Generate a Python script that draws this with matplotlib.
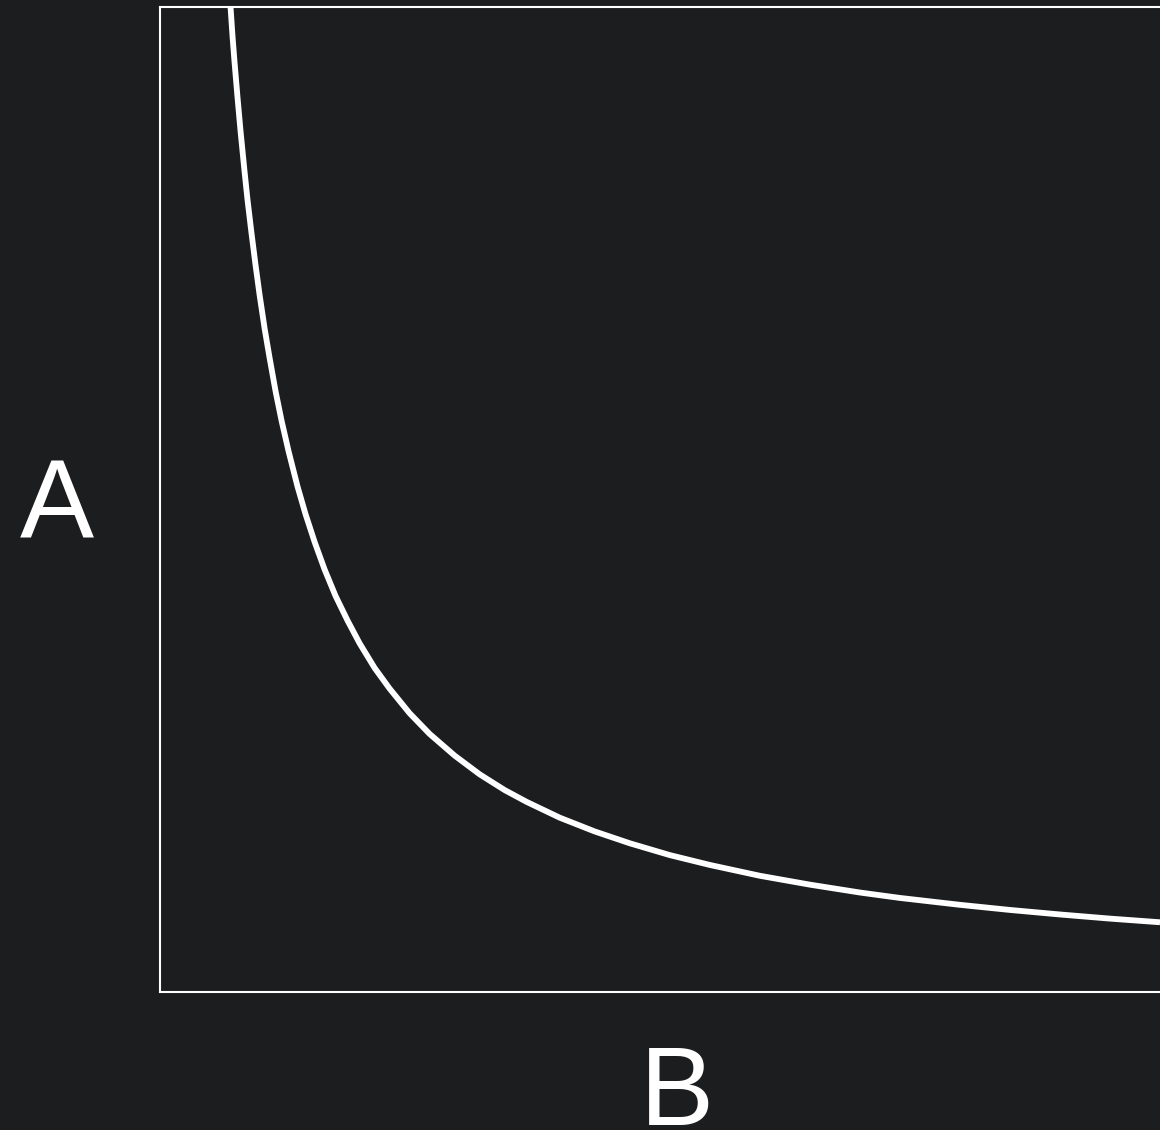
import matplotlib
matplotlib.use("Agg")
import matplotlib.pyplot as plt

# Curve samples (x, y) in data units
x_vals = [0.71, 0.73, 0.75, 0.78, 0.81, 0.85, 0.88, 0.92, 0.96, 1.00,
          1.05, 1.10, 1.16, 1.22, 1.29, 1.38, 1.46, 1.55, 1.65, 1.76,
          1.88, 2.00, 2.15, 2.30, 2.50, 2.70, 2.95, 3.20, 3.45, 3.67,
          4.00, 4.35, 4.70, 5.10, 5.50, 6.00, 6.50, 7.00, 7.40, 8.00,
          8.50, 9.00, 9.50, 10.00]
y_vals = [10.00, 9.70, 9.44, 9.08, 8.74, 8.33, 8.04, 7.70, 7.38, 7.08,
          6.74, 6.44, 6.10, 5.80, 5.49, 5.13, 4.85, 4.57, 4.29, 4.02,
          3.77, 3.54, 3.29, 3.08, 2.83, 2.62, 2.40, 2.21, 2.05, 1.93,
          1.77, 1.63, 1.51, 1.39, 1.29, 1.18, 1.09, 1.01, 0.955, 0.885,
          0.833, 0.787, 0.745, 0.708]

x_label = "B"
y_label = "A"

bg = "#1c1d1f"
fg = "#ffffff"

W, H = 1160, 1130
fig = plt.figure(figsize=(W / 100, H / 100), dpi=100, facecolor=bg)
left_px, top_px, bottom_px = 159.5, 7, 992
ax = fig.add_axes([left_px / W, 1 - bottom_px / H,
                   (W - left_px) / W, (bottom_px - top_px) / H])
ax.set_facecolor(bg)
ax.plot(x_vals, y_vals, color=fg, lw=4.2, solid_joinstyle="round",
        solid_capstyle="butt")
ax.set_xlim(0, 10)
ax.set_ylim(0, 10)
ax.set_xticks([])
ax.set_yticks([])
for side in ("left", "top", "bottom"):
    ax.spines[side].set_color(fg)
    ax.spines[side].set_linewidth(1.5)
ax.spines["right"].set_visible(False)

font = dict(family=["Liberation Sans", "DejaVu Sans"], color=fg, fontsize=80)
fig.text(57 / W, 1 - 538 / H, y_label, ha="center", va="baseline", **font)
fig.text(677 / W, 1 - 1125 / H, x_label, ha="center", va="baseline", **font)

fig.savefig("out.png", dpi=100, facecolor=bg)
